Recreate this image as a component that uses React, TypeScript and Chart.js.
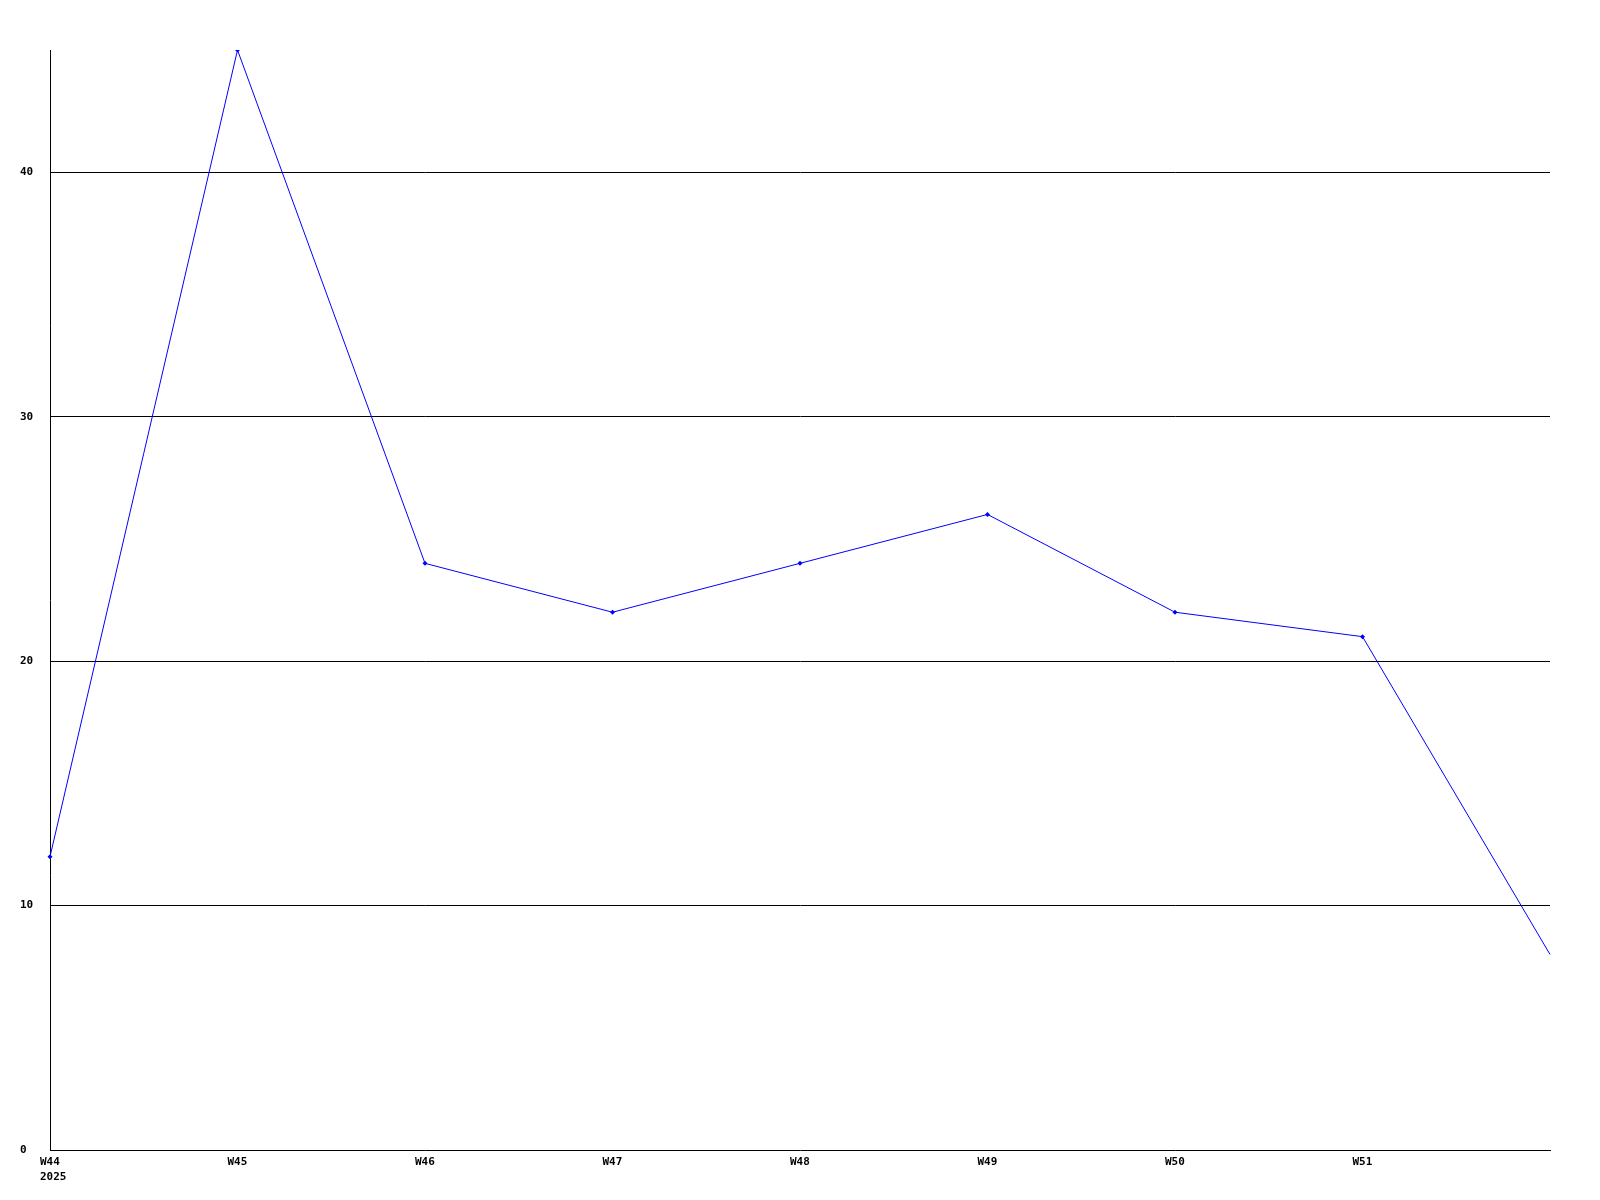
import React, { useEffect, useRef } from "react";
import { Chart, registerables } from "chart.js";

Chart.register(...registerables);

const categories: (string | string[])[] = [["W44", "2025"], "W45", "W46", "W47", "W48", "W49", "W50", "W51", ""];
const values: number[] = [12, 45, 24, 22, 24, 26, 22, 21, 8];
const yMax = 45;
const yStep = 10;

export default function App() {
  const ref = useRef<HTMLCanvasElement | null>(null);

  useEffect(() => {
    if (!ref.current) return;
    const font = { family: "'DejaVu Sans Mono', monospace", size: 11, weight: "bold" as const, lineHeight: 1.35 };
    const chart = new Chart(ref.current, {
      type: "line",
      data: {
        labels: categories,
        datasets: [
          {
            data: values,
            borderColor: "#0000ff",
            backgroundColor: "#0000ff",
            borderWidth: 1,
            pointStyle: "rectRot",
            pointRadius: (ctx: any) => (ctx.dataIndex === values.length - 1 ? 0 : 2.5),
            pointBorderWidth: 0,
            tension: 0,
            fill: false,
          },
        ],
      },
      options: {
        animation: false,
        responsive: false,
        devicePixelRatio: 1,
        layout: { padding: { left: 20, top: 50, right: 50, bottom: 0 } },
        plugins: { legend: { display: false }, tooltip: { enabled: false }, title: { display: false } },
        scales: {
          x: {
            type: "category",
            offset: false,
            grid: { display: false, drawTicks: false },
            border: { display: true, color: "#000000", width: 1 },
            ticks: {
              color: "#000000",
              font,
              padding: 5,
              maxRotation: 0,
              autoSkip: false,
              align: "start",
              labelOffset: -10,
            },
            afterFit: (scale: any) => {
              scale.height = 50;
            },
          },
          y: {
            min: 0,
            max: yMax,
            grid: {
              color: (ctx: any) => (ctx.tick && ctx.tick.value === 0 ? "rgba(0,0,0,0)" : "#000000"),
              lineWidth: 1,
              drawTicks: false,
            },
            border: { display: true, color: "#000000", width: 1 },
            ticks: { stepSize: yStep, color: "#000000", font, crossAlign: "far", padding: 0 },
            afterBuildTicks: (scale: any) => {
              scale.ticks = scale.ticks.filter((t: any) => t.value % yStep === 0);
            },
            afterFit: (scale: any) => {
              scale.width = 30;
            },
          },
        },
      },
    } as any);
    return () => chart.destroy();
  }, []);

  return (
    <div style={{ position: "absolute", left: 0, top: 0, width: 1600, height: 1200, background: "#fff" }}>
      <canvas ref={ref} width={1600} height={1200} style={{ display: "block" }} />
    </div>
  );
}
